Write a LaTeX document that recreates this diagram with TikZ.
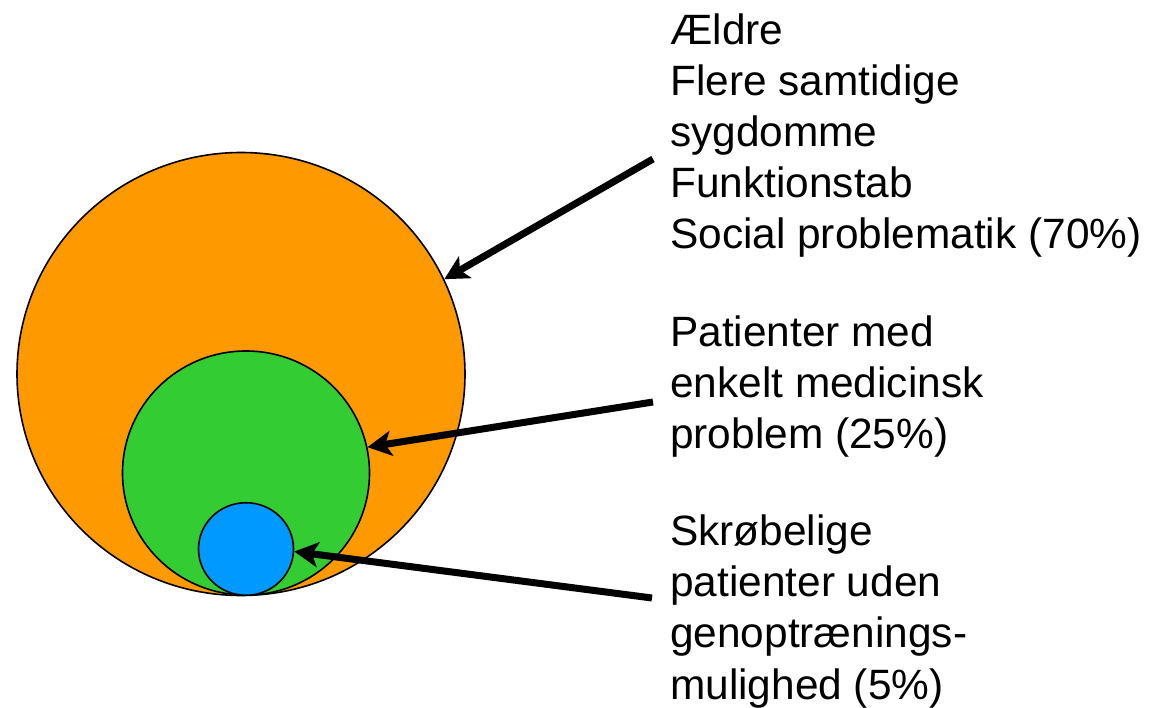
\documentclass[tikz,border=0pt]{standalone}
\usepackage{fontspec}
\setmainfont{Liberation Sans}
\usetikzlibrary{arrows.meta,shapes.geometric}
\definecolor{corange}{HTML}{FF9900}
\definecolor{cgreen}{HTML}{33CC33}
\definecolor{cblue}{HTML}{0099FF}
\begin{document}
\begin{tikzpicture}[x=1pt,y=-1pt,
  ring/.style={ellipse, draw=black, line width=1.6pt, inner sep=0pt},
  label/.style={anchor=base west, align=left, inner sep=0pt,
    font=\fontsize{42.4}{51.2}\selectfont},
  pointer/.style={line width=7pt, -{Stealth[length=24pt, width=25pt, inset=6pt]}}]
\useasboundingbox (0,0) rectangle (1160,708);
\node[ring, fill=corange, minimum width=448pt, minimum height=443pt] (outer) at (241,374) {};
\node[ring, fill=cgreen, minimum width=247pt, minimum height=244pt] (middle) at (246,473) {};
\node[ring, fill=cblue, minimum width=95pt, minimum height=92.5pt] (inner) at (246,549) {};
\node[label] (t1) at (670,249) {Ældre\\Flere samtidige\\sygdomme\\Funktionstab\\Social problematik (70\%)};
\node[label] (t2) at (670,449) {Patienter med\\enkelt medicinsk\\problem (25\%)};
\node[label] (t3) at (670,699) {Skrøbelige\\patienter uden\\genoptrænings-\\mulighed (5\%)};
\coordinate (s1) at (653,159);
\coordinate (s2) at (653,402);
\coordinate (s3) at (652,598);
\draw[pointer] (s1) -- (outer.25.5);
\draw[pointer] (s2) -- (middle.12);
\draw[pointer] (s3) -- (inner.-3);
\end{tikzpicture}
\end{document}
